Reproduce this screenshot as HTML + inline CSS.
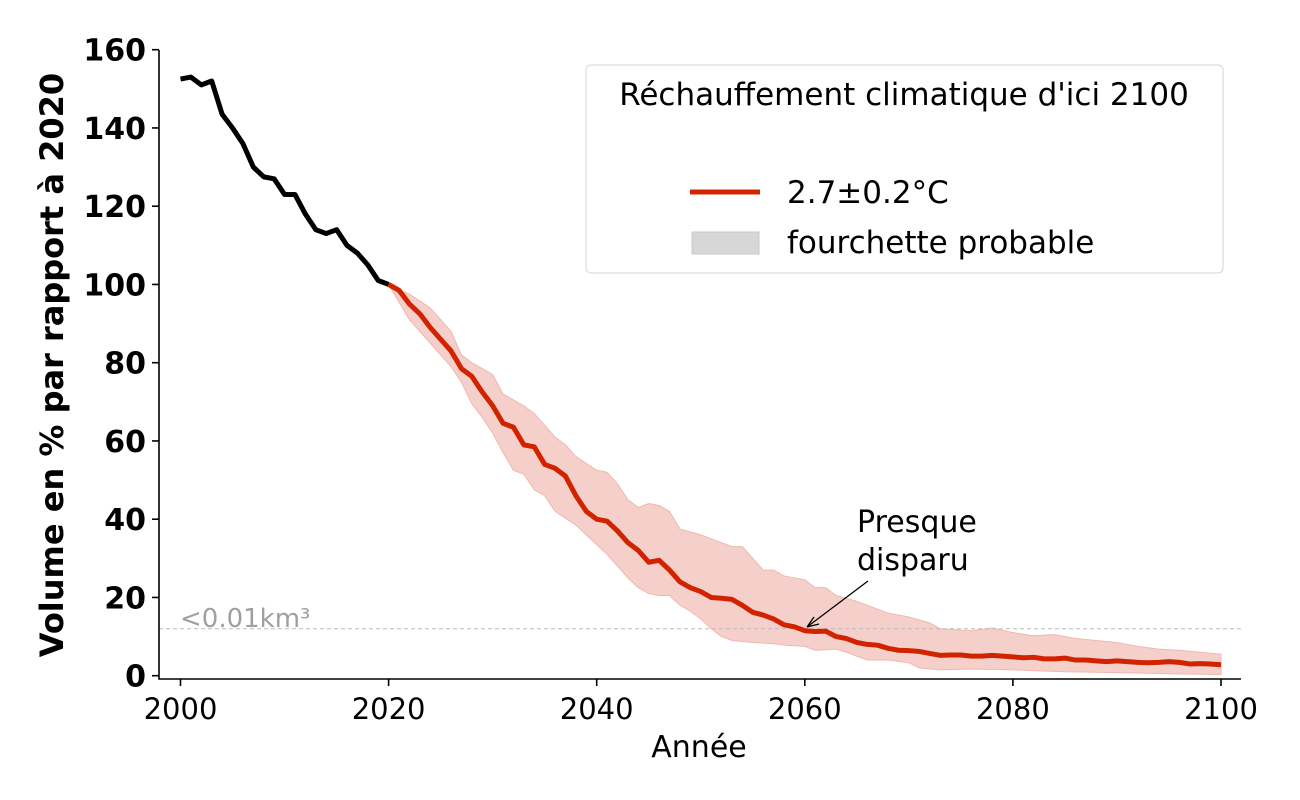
<!DOCTYPE html>
<html><head><meta charset="utf-8"><style>
body{margin:0;background:#fff;}
svg{display:block;font-family:"DejaVu Sans","Liberation Sans",sans-serif;}
</style></head><body>
<svg id="chart" width="1300" height="800" viewBox="0 0 1300 800">
<g id="plot"></g>
</svg>
<script>
const histYears=[2000,2001,2002,2003,2004,2005,2006,2007,2008,2009,2010,2011,2012,2013,2014,2015,2016,2017,2018,2019,2020];
const histValues=[152.5,153,151,152,143.5,140,136,130,127.5,127,123,123,118,114,113,114,110,108,105,101,100];
const projValues=[100,98.5,95,92.5,89,86,83,78.5,76.5,72.5,69,64.5,63.5,59,58.5,54,53,51,46,42,40,39.5,37,34,32,29,29.5,27,24,22.5,21.5,20,19.8,19.5,18,16.2,15.5,14.5,13,12.5,11.5,11.3,11.4,10,9.5,8.5,8,7.8,7,6.5,6.4,6.2,5.7,5.2,5.3,5.3,5,5,5.2,5,4.8,4.6,4.7,4.3,4.3,4.5,4,4,3.8,3.6,3.8,3.6,3.4,3.3,3.4,3.6,3.4,3,3.1,3,2.8];
const upperYears=[2020,2022,2024,2026,2027,2028,2030,2031,2033,2034,2036,2037,2038,2040,2041,2042,2043,2044,2045,2046,2047,2048,2050,2052,2053,2054,2055,2056,2057,2058,2060,2061,2062,2063,2065,2067,2068,2070,2072,2073,2076,2078,2080,2082,2084,2086,2090,2092,2094,2096,2100];
const upperValues=[100,97.5,94,88,82,80,77,72,69,67,61,59,56,52.5,52,49,45,43,44,43.5,42,37.5,36,34,33,33,30,27,27,25.5,24.5,22.5,22.5,20.5,19,17,16,15,13.5,12,11.5,12.2,11,10.2,10.5,9.5,8.5,7.5,6.8,6.5,5.5];
const lowerYears=[2020,2022,2024,2025,2026,2027,2028,2029,2030,2031,2032,2033,2034,2035,2036,2038,2039,2040,2041,2042,2043,2044,2045,2046,2047,2048,2049,2050,2051,2052,2053,2055,2057,2058,2060,2061,2063,2064,2065,2066,2068,2070,2071,2073,2076,2080,2085,2090,2095,2100];
const lowerValues=[100,91,85,82,79,75,69.5,66,62,57,52.5,51.5,47.5,46,42,38.5,36,33.5,31,28,25,22.5,21,20.5,20.5,18,16.5,14.5,12,10,9,8.5,8.2,7.8,7.5,6.5,6.8,6,5,4,4,3.3,2,1.5,1.7,1.5,1,0.8,0.5,0.3];
const xTicks=[2000,2020,2040,2060,2080,2100];
const yTicks=[0,20,40,60,80,100,120,140,160];
const threshold=12;

const NS="http://www.w3.org/2000/svg";
const g=document.getElementById('plot');
const X=y=>180.5+(y-2000)*10.405;
const Y=v=>675.7-v*3.9125;
function el(t,a,txt){const e=document.createElementNS(NS,t);for(const k in a)e.setAttribute(k,a[k]);if(txt!==undefined)e.textContent=txt;g.appendChild(e);return e;}

// band
let d='';
upperYears.forEach((yr,i)=>{d+=(i?'L':'M')+X(yr)+','+Y(upperValues[i]);});
for(let i=lowerYears.length-1;i>=0;i--)d+='L'+X(lowerYears[i])+','+Y(lowerValues[i]);
let band=el('path',{d:d+'Z',fill:'#f5d0cb',stroke:'#f0b8b0','stroke-width':1});



// threshold
let th=el('line',{x1:159,x2:1241,y1:Y(threshold),y2:Y(threshold),stroke:'#bbb','stroke-dasharray':'4,3','stroke-width':1});


let tl=el('text',{x:180,y:627,fill:'#a0a0a0','font-size':26},'<0.01km³');



// lines
let hp=histYears.map((yr,i)=>X(yr)+','+Y(histValues[i])).join(' ');
let hl=el('polyline',{points:hp,fill:'none',stroke:'#000','stroke-width':5,'stroke-linejoin':'round'});


let pp=projValues.map((v,i)=>X(2020+i)+','+Y(v)).join(' ');
let pl=el('polyline',{points:pp,fill:'none',stroke:'#d12300','stroke-width':5,'stroke-linejoin':'round'});



// axes
let ax=el('path',{d:'M159,50 V679 H1241',fill:'none',stroke:'#000','stroke-width':1.6});


xTicks.forEach(t=>{
 let tk=el('line',{x1:X(t),x2:X(t),y1:679,y2:686,stroke:'#000','stroke-width':1.6});
 
 
 let lb=el('text',{x:X(t),y:719,'text-anchor':'middle','font-size':29},t);
 
 
});
yTicks.forEach(t=>{
 let tk=el('line',{x1:152,x2:159,y1:Y(t),y2:Y(t),stroke:'#000','stroke-width':1.6});
 
 
 let lb=el('text',{x:146,y:Y(t)+11,'text-anchor':'end','font-size':30,'font-weight':'bold'},t);
 
 
});
let xt=el('text',{x:699,y:757,'text-anchor':'middle','font-size':30},'Année');


let yt=el('text',{x:0,y:0,'text-anchor':'middle','font-size':32,'font-weight':'bold',transform:'translate(63,365) rotate(-90)'},'Volume en % par rapport à 2020');



// annotation
let an1=el('text',{x:857,y:532,'font-size':30},'Presque');


let an2=el('text',{x:857,y:570,'font-size':30},'disparu');


let ar=el('path',{d:'M868,581 L807,627 M807,627 L814,617 M807,627 L819,624',fill:'none',stroke:'#000','stroke-width':1.3});



// legend
let lg=el('rect',{x:586,y:65,width:637,height:208,rx:5,fill:'#fff',stroke:'#ddd','stroke-width':1.2});


let lt=el('text',{x:904,y:105,'text-anchor':'middle','font-size':31},"Réchauffement climatique d'ici 2100");


let l1=el('line',{x1:690,x2:760,y1:192,y2:192,stroke:'#d12300','stroke-width':5});


let t1=el('text',{x:787,y:203,'font-size':31},'2.7±0.2°C');


let p2=el('rect',{x:692,y:232,width:67,height:22,fill:'#d7d7d7',stroke:'#c8c8c8'});


let t2=el('text',{x:787,y:253,'font-size':31},'fourchette probable');


</script>
</body></html>
